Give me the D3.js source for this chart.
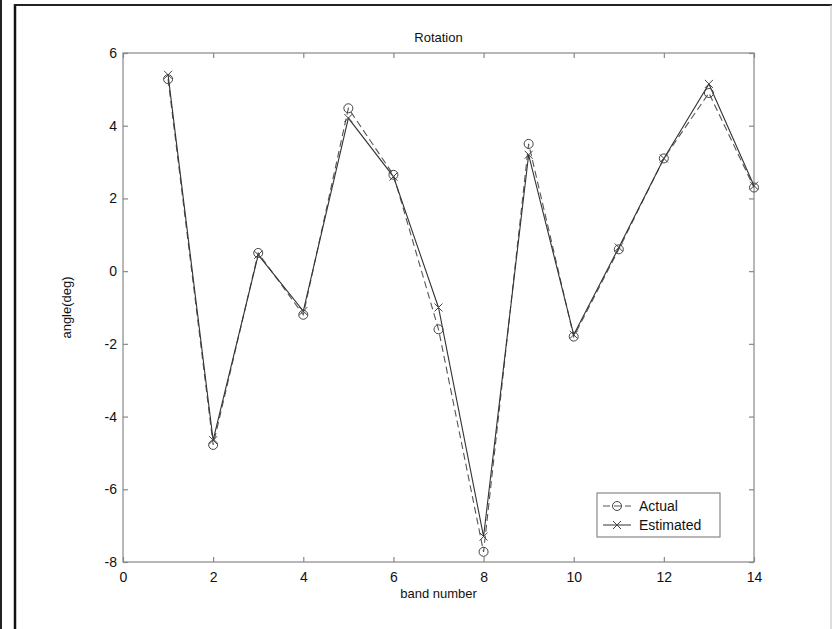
<!doctype html>
<html lang="en">
<head>
<meta charset="UTF-8">
<title>Rotation</title>
<script src="https://d3js.org/d3.v7.min.js"></script>
<style>
  body { margin: 0; background: #fff; }
  text { font-family: "Liberation Sans", Arial, sans-serif; fill: #111; }
</style>
</head>
<body>
<div id="chart-area"></div>
<script>

const bands = [1, 2, 3, 4, 5, 6, 7, 8, 9, 10, 11, 12, 13, 14];
const actual = [5.28, -4.78, 0.5, -1.2, 4.48, 2.65, -1.6, -7.72, 3.5, -1.8, 0.6, 3.1, 4.9, 2.3];
const estimated = [5.4, -4.65, 0.45, -1.1, 4.21, 2.6, -1.0, -7.3, 3.2, -1.75, 0.65, 3.1, 5.15, 2.35];
const xTicks = [0, 2, 4, 6, 8, 10, 12, 14];
const yTicks = [-8, -6, -4, -2, 0, 2, 4, 6];

const W = 832, H = 629;
const margin = { top: 53, right: 78, bottom: 67, left: 123 };
const chartW = W - margin.left - margin.right;
const chartH = H - margin.top - margin.bottom;

const svg = d3.select('#chart-area')
    .append('svg')
    .attr('width', W)
    .attr('height', H);

// outer frame of the figure
svg.append('line').attr('x1', 1).attr('x2', 1).attr('y1', 0).attr('y2', H)
    .attr('stroke', '#222').attr('stroke-width', 2);
svg.append('line').attr('x1', 15).attr('x2', 15).attr('y1', 4).attr('y2', H)
    .attr('stroke', '#111').attr('stroke-width', 2.5);
svg.append('line').attr('x1', 14).attr('x2', W).attr('y1', 5).attr('y2', 5)
    .attr('stroke', '#222').attr('stroke-width', 2);
svg.append('line').attr('x1', W - 1).attr('x2', W - 1).attr('y1', 5).attr('y2', H)
    .attr('stroke', '#bbb').attr('stroke-width', 1);

const g = svg.append('g')
    .attr('transform', `translate(${margin.left},${margin.top})`);

const x = d3.scaleLinear().domain([0, 14]).range([0, chartW]);
const y = d3.scaleLinear().domain([-8, 6]).range([chartH, 0]);

const axisColor = '#888';
const fmt = d => String(d);   // plain hyphen minus, as in the original

// box
g.append('rect')
    .attr('width', chartW).attr('height', chartH)
    .attr('fill', 'none').attr('stroke', axisColor).attr('stroke-width', 1.2);

function styleAxis(sel) {
    sel.select('.domain').remove();
    sel.selectAll('.tick line').attr('stroke', axisColor).attr('stroke-width', 1.2);
    sel.selectAll('.tick text')
        .attr('font-size', '14px')
        .attr('font-family', '"Liberation Sans", Arial, sans-serif')
        .attr('fill', '#111');
}

g.append('g')
    .attr('transform', `translate(0,${chartH})`)
    .call(d3.axisBottom(x).tickValues(xTicks).tickFormat(fmt).tickSize(-5).tickPadding(10))
    .call(styleAxis);
g.append('g')
    .call(d3.axisTop(x).tickValues(xTicks).tickSize(-5).tickFormat(''))
    .call(styleAxis);
g.append('g')
    .call(d3.axisLeft(y).tickValues(yTicks).tickFormat(fmt).tickSize(-5).tickPadding(6))
    .call(styleAxis);
g.append('g')
    .attr('transform', `translate(${chartW},0)`)
    .call(d3.axisRight(y).tickValues(yTicks).tickSize(-5).tickFormat(''))
    .call(styleAxis);

// labels
g.append('text')
    .attr('x', chartW / 2).attr('y', -11)
    .attr('text-anchor', 'middle').attr('font-size', '13px')
    .text('Rotation');
g.append('text')
    .attr('x', chartW / 2).attr('y', chartH + 36)
    .attr('text-anchor', 'middle').attr('font-size', '13px')
    .text('band number');
g.append('text')
    .attr('transform', 'rotate(-90)')
    .attr('x', -chartH / 2).attr('y', -52)
    .attr('text-anchor', 'middle').attr('font-size', '13px')
    .text('angle(deg)');

const lineColor = '#333';
const line = d3.line().x(d => x(d[0])).y(d => y(d[1]));
const actualPts = bands.map((b, i) => [b, actual[i]]);
const estPts = bands.map((b, i) => [b, estimated[i]]);

g.append('path').datum(actualPts)
    .attr('d', line).attr('fill', 'none')
    .attr('stroke', '#555').attr('stroke-width', 1.1)
    .attr('stroke-dasharray', '7,4');
g.append('path').datum(estPts)
    .attr('d', line).attr('fill', 'none')
    .attr('stroke', lineColor).attr('stroke-width', 1.1);

function circleMarker(sel, px, py) {
    sel.append('circle').attr('cx', px).attr('cy', py).attr('r', 4.5)
        .attr('fill', 'none').attr('stroke', '#444').attr('stroke-width', 1);
}
function crossMarker(sel, px, py) {
    const s = 4;
    sel.append('path')
        .attr('d', `M${px - s},${py - s}L${px + s},${py + s}M${px - s},${py + s}L${px + s},${py - s}`)
        .attr('stroke', '#444').attr('stroke-width', 1);
}

actualPts.forEach(d => circleMarker(g, x(d[0]), y(d[1])));
estPts.forEach(d => crossMarker(g, x(d[0]), y(d[1])));

// legend
const lg = svg.append('g').attr('transform', 'translate(597,493)');
lg.append('rect').attr('width', 123).attr('height', 44)
    .attr('fill', '#fff').attr('stroke', axisColor).attr('stroke-width', 1.2);
lg.append('line').attr('x1', 6).attr('x2', 34).attr('y1', 13).attr('y2', 13)
    .attr('stroke', '#555').attr('stroke-dasharray', '7,4');
circleMarker(lg, 20, 13);
lg.append('text').attr('x', 42).attr('y', 18).attr('font-size', '14px').text('Actual');
lg.append('line').attr('x1', 6).attr('x2', 34).attr('y1', 32).attr('y2', 32)
    .attr('stroke', lineColor);
crossMarker(lg, 20, 32);
lg.append('text').attr('x', 42).attr('y', 37).attr('font-size', '14px').text('Estimated');

</script>
</body>
</html>
